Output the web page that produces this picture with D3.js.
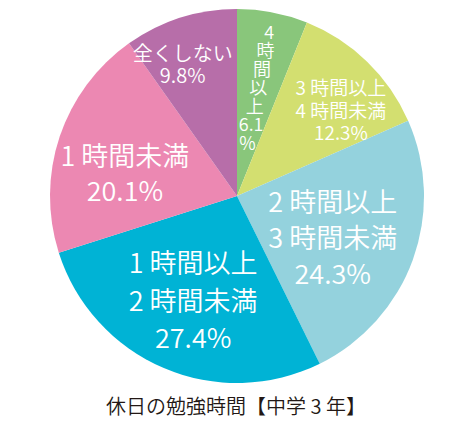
<!DOCTYPE html>
<html>
<head>
<meta charset="utf-8">
<script src="https://cdn.jsdelivr.net/npm/d3@7"></script>
<style>
  body { margin: 0; background: #fff; }
  svg { display: block; font-family: "Noto Sans CJK JP", "Noto Sans", sans-serif; }
</style>
</head>
<body>
<div id="chart"></div>
<script>
// study time on holidays, 3rd year junior high
var categories = ["4時間以上", "3時間以上4時間未満", "2時間以上3時間未満", "1時間以上2時間未満", "1時間未満", "全くしない"];
var values = [6.1, 12.3, 24.3, 27.4, 20.1, 9.8];
var labelLines = [
  ["4", "時", "間", "以", "上", "6.1", "%"],
  ["3 時間以上", "4 時間未満", "12.3%"],
  ["2 時間以上", "3 時間未満", "24.3%"],
  ["1 時間以上", "2 時間未満", "27.4%"],
  ["1 時間未満", "20.1%"],
  ["全くしない", "9.8%"]
];
var title = "休日の勉強時間【中学 3 年】";

var colors = ["#89c67b", "#d3df70", "#94d2dd", "#00b3d5", "#ec88b2", "#b76ea9"];

var w = 475, h = 425;
var cx = 237, cy = 196, radius = 187;

var svg = d3.select("#chart").append("svg")
  .attr("width", w)
  .attr("height", h);

var pie = d3.pie().sort(null).value(function(d) { return d; });
var arcs = pie(values);

var arc = d3.arc().innerRadius(0).outerRadius(radius);

var g = svg.append("g")
  .attr("transform", "translate(" + cx + "," + cy + ")");

g.selectAll("path.slice")
  .data(arcs)
  .enter()
  .append("path")
  .attr("class", "slice")
  .attr("d", arc)
  .attr("fill", function(d, i) { return colors[i]; });

// label placement: radius of label centre, small nudges, font size, line step
var labelCfg = [
  { r: 112, dx: 0, dy: 0, size: 18, step: 18.5, radial: true },
  { r: 135, dx: 10, dy: 10, size: 19, step: 22.5 },
  { r: 104, dx: -2, dy: 5, size: 27, step: 36 },
  { r: 112, dx: 0, dy: 0, size: 27, step: 37.5 },
  { r: 114, dx: -4, dy: 12, size: 27, step: 35 },
  { r: 143, dx: -11, dy: 4, size: 20, step: 22 }
];

arcs.forEach(function(d, i) {
  var cfg = labelCfg[i];
  var mid = (d.startAngle + d.endAngle) / 2;
  var lines = labelLines[i];
  var n = lines.length;
  var px = Math.sin(mid) * cfg.r + cfg.dx;
  var py = -Math.cos(mid) * cfg.r + cfg.dy;
  var t = g.append("g").attr("class", "label");
  lines.forEach(function(s, k) {
    var off = (k - (n - 1) / 2) * cfg.step;
    var x = px, y = py + off;
    if (cfg.radial) {
      // stack the single characters down along the slice's middle
      x = px - Math.sin(mid) * off / Math.cos(mid);
    }
    t.append("text")
      .attr("x", x)
      .attr("y", y)
      .attr("text-anchor", "middle")
      .attr("dominant-baseline", "central")
      .attr("fill", "#fff")
      .attr("font-size", cfg.size)
      .attr("font-weight", 350)
      .text(s);
  });
});

svg.append("text")
  .attr("x", 236)
  .attr("y", 405)
  .attr("text-anchor", "middle")
  .attr("dominant-baseline", "central")
  .attr("fill", "#231815")
  .attr("font-size", 20)
  .attr("font-weight", 350)
  .text(title);
</script>
</body>
</html>
